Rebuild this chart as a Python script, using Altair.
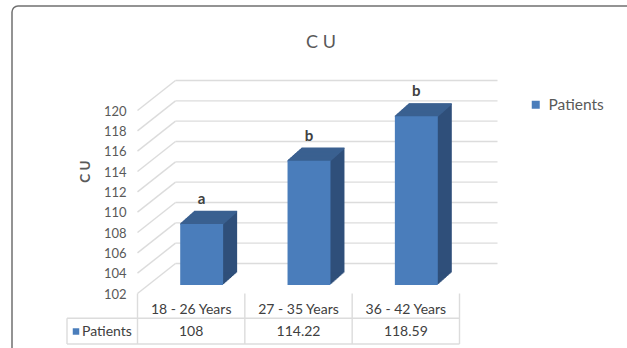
import altair as alt
import pandas as pd

# ---------------- data ----------------
age_groups = ["18 - 26 Years", "27 - 35 Years", "36 - 42 Years"]
cu_values = [108, 114.22, 118.59]
sig_letters = ["a", "b", "b"]
y_ticks = [102, 104, 106, 108, 110, 112, 114, 116, 118, 120]
series_name = "Patients"
chart_title = "C U"

# ---------------- style ----------------
FONT = "Lato"
TEXT = "#595959"
DARK_TEXT = "#404040"
FRONT = "#4a7dbb"
SIDE = "#2f4f7a"
TOP = "#3b6090"
GRID = "#dcdcdc"
FRAME = "#707070"

PLOT_W, PLOT_H = 322, 183
PAD_L, PAD_T = 148, 102
TOTAL_W, TOTAL_H = 627, 348

# pseudo-3D projection, in pixels, relative to the plane of the bar fronts
FRONT_DX, FRONT_DY = -10.5, 8.5     # front edge of the floor / axis plane
BACK_DX, BACK_DY = 27.5, -21.5      # back wall
BAR_DEPTH = 14                      # horizontal extrusion of each bar
BAR_SLOPE = -0.89                   # vertical px per horizontal px of extrusion
HALF_W = 0.2                        # half bar width, in category units

n = len(age_groups)
bars = pd.DataFrame({
    "idx": list(range(n)),
    "group": age_groups,
    "cu": cu_values,
    "letter": sig_letters,
    "series": [series_name] * n,
})
grid = pd.DataFrame({"tick": y_ticks})
edges = pd.DataFrame({"edge": [i - 0.5 for i in range(n + 1)]})
one = pd.DataFrame({"series": [series_name], "title": [chart_title]})

x_scale = alt.Scale(domain=[-0.5, n - 0.5], nice=False, zero=False)
y_scale = alt.Scale(domain=[y_ticks[0], y_ticks[-1]], nice=False, zero=False)

y_axis = alt.Axis(
    values=y_ticks, grid=False, domain=False, ticks=False,
    offset=-FRONT_DX, labelOffset=FRONT_DY + 0.5, labelPadding=11.5,
    labelFont=FONT, labelFontSize=13, labelColor=TEXT,
    title=chart_title, titleFont=FONT, titleFontSize=13.5, titleFontWeight="bold",
    titleColor=TEXT, titleAngle=270, titleX=-52, titleY=69,
    titleAlign="center", titleBaseline="middle",
)


def X(field):
    return alt.X(field, type="quantitative", scale=x_scale, axis=None)


def Y(field):
    return alt.Y(field, type="quantitative", scale=y_scale, axis=y_axis)


layers = []

# outer rounded frame
layers.append(
    alt.Chart(one).mark_rect(filled=False, color=FRAME, strokeWidth=1.5, cornerRadius=6)
    .encode(x=alt.value(12 - PAD_L), y=alt.value(6 - PAD_T),
            x2=alt.value(TOTAL_W - PAD_L + 40), y2=alt.value(TOTAL_H - PAD_T + 40))
)

# title
layers.append(
    alt.Chart(one).mark_text(font=FONT, fontSize=18, color=TEXT, baseline="middle")
    .encode(x=alt.value(321 - PAD_L), y=alt.value(42.5 - PAD_T), text="title:N")
)

# floor-to-wall diagonals and back-wall gridlines
left_edge = str(-0.5)
right_edge = str(n - 0.5)
layers.append(
    alt.Chart(grid).transform_calculate(left=left_edge)
    .mark_rule(color=GRID, strokeWidth=1.4, xOffset=FRONT_DX, x2Offset=BACK_DX,
               yOffset=FRONT_DY, y2Offset=BACK_DY)
    .encode(x=X("left"), x2="left:Q", y=Y("tick"), y2="tick:Q")
)
layers.append(
    alt.Chart(grid).transform_calculate(left=left_edge, right=right_edge)
    .mark_rule(color=GRID, strokeWidth=1.4, xOffset=BACK_DX, x2Offset=BACK_DX,
               yOffset=BACK_DY)
    .encode(x=X("left"), x2="right:Q", y=Y("tick"))
)

bar_base = alt.Chart(bars).transform_calculate(
    x0=f"datum.idx - {HALF_W}", x1=f"datum.idx + {HALF_W}", floor=str(y_ticks[0])
)

# extruded body of each bar (side face)
for k in range(1, BAR_DEPTH + 1):
    layers.append(
        bar_base.mark_bar(color=SIDE, xOffset=k, x2Offset=k,
                          yOffset=BAR_SLOPE * k, y2Offset=BAR_SLOPE * k)
        .encode(x=X("x0"), x2="x1:Q", y=Y("cu"), y2="floor:Q")
    )

# top face of each bar
for i in range(2 * BAR_DEPTH + 1):
    k = i / 2
    layers.append(
        bar_base.mark_rule(color=TOP, strokeWidth=1.5, xOffset=k, x2Offset=k,
                           yOffset=BAR_SLOPE * k)
        .encode(x=X("x0"), x2="x1:Q", y=Y("cu"))
    )

# front face, carrying the legend
layers.append(
    bar_base.mark_bar()
    .encode(
        x=X("x0"), x2="x1:Q", y=Y("cu"), y2="floor:Q",
        color=alt.Color(
            "series:N", scale=alt.Scale(range=[FRONT]),
            legend=alt.Legend(
                title=None, orient="none", legendX=528 - PAD_L, legendY=97 - PAD_T,
                symbolType="square", symbolSize=64, symbolStrokeWidth=0, padding=0,
                labelFont=FONT, labelFontSize=15.5, labelColor=TEXT, labelOffset=5,
            ),
        ),
    )
)

# significance letters
layers.append(
    alt.Chart(bars).mark_text(font=FONT, fontSize=15, fontWeight="bold", color=DARK_TEXT,
                              dy=-25, baseline="middle")
    .encode(x=X("idx"), y=Y("cu"), text="letter:N")
)

# data table under the plot
HEADER_Y = 309.5 - PAD_T
VALUE_Y = 331.5 - PAD_T
ROW_LINE_Y = 318.3 - PAD_T
BOTTOM_Y = 344 - PAD_T
TABLE_LEFT = 67 - PAD_L

layers.append(
    alt.Chart(edges).transform_calculate(floor=str(y_ticks[0]))
    .mark_rule(color=GRID, strokeWidth=1.4, xOffset=FRONT_DX, yOffset=FRONT_DY)
    .encode(x=X("edge"), y=Y("floor"), y2=alt.value(BOTTOM_Y))
)
last_edge = edges.tail(1)
for ly in (ROW_LINE_Y, BOTTOM_Y):
    layers.append(
        alt.Chart(last_edge).mark_rule(color=GRID, strokeWidth=1.4, xOffset=FRONT_DX)
        .encode(x=X("edge"), x2=alt.value(TABLE_LEFT), y=alt.value(ly))
    )
layers.append(
    alt.Chart(one).mark_rule(color=GRID, strokeWidth=1.4)
    .encode(x=alt.value(TABLE_LEFT), y=alt.value(ROW_LINE_Y), y2=alt.value(BOTTOM_Y))
)
layers.append(
    alt.Chart(bars).mark_text(font=FONT, fontSize=14, color=DARK_TEXT,
                              xOffset=FRONT_DX, baseline="middle")
    .encode(x=X("idx"), y=alt.value(HEADER_Y), text="group:N")
)
layers.append(
    alt.Chart(bars).mark_text(font=FONT, fontSize=14, color=DARK_TEXT,
                              xOffset=FRONT_DX, baseline="middle")
    .encode(x=X("idx"), y=alt.value(VALUE_Y), text="cu:N")
)
layers.append(
    alt.Chart(one).mark_point(shape="square", filled=True, size=42, color=FRONT, opacity=1)
    .encode(x=alt.value(76 - PAD_L), y=alt.value(VALUE_Y))
)
layers.append(
    alt.Chart(one).mark_text(font=FONT, fontSize=14, color=DARK_TEXT, align="left",
                             baseline="middle")
    .encode(x=alt.value(82 - PAD_L), y=alt.value(VALUE_Y), text="series:N")
)

chart = (
    alt.layer(*layers)
    .properties(
        width=PLOT_W, height=PLOT_H,
        padding={"left": PAD_L, "top": PAD_T,
                 "right": TOTAL_W - PAD_L - PLOT_W, "bottom": TOTAL_H - PAD_T - PLOT_H},
        autosize=alt.AutoSizeParams(type="none"),
        background="white",
    )
    .configure_view(stroke=None)
)

chart.save("out.html", embed_options={"renderer": "svg", "actions": False})
